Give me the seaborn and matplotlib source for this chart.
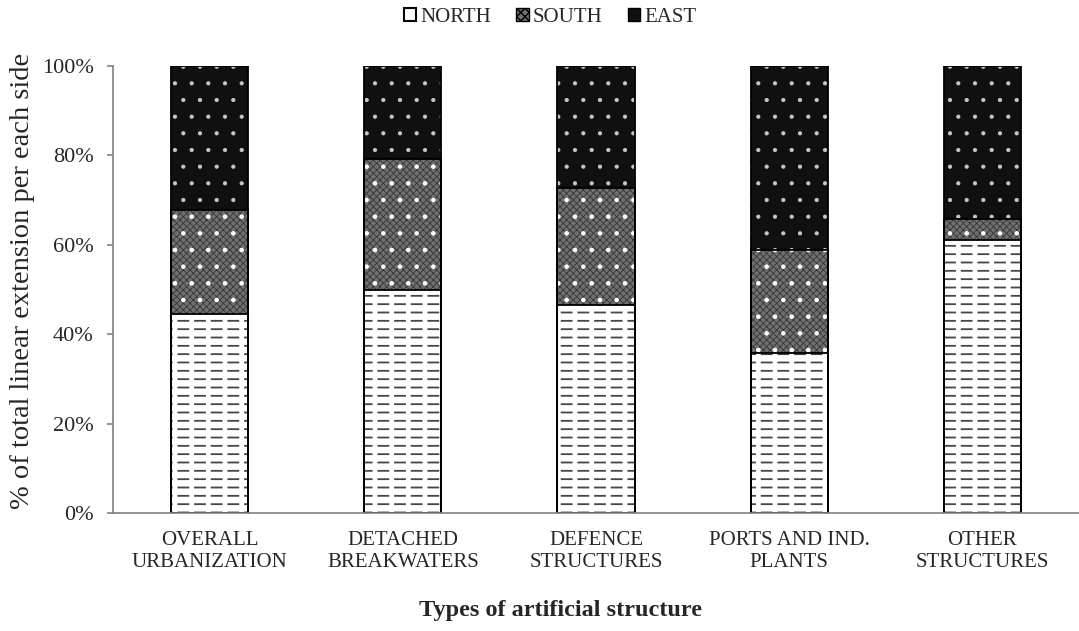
import matplotlib
matplotlib.use("Agg")
import matplotlib.pyplot as plt
import matplotlib.patches as mpatches
from matplotlib.ticker import PercentFormatter
import seaborn as sns
import pandas as pd

# values (% of total linear extension)
categories = ["OVERALL\nURBANIZATION", "DETACHED\nBREAKWATERS", "DEFENCE\nSTRUCTURES",
              "PORTS AND IND.\nPLANTS", "OTHER\nSTRUCTURES"]
north = [44.5, 49.8, 46.5, 35.9, 61.1]
south = [23.2, 29.3, 26.3, 22.9, 4.6]
east = [round(100 - n - s, 1) for n, s in zip(north, south)]
sides = ["NORTH", "SOUTH", "EAST"]

df = pd.DataFrame({"structure": categories, "NORTH": north, "SOUTH": south, "EAST": east})
# cumulative tops for stacking (seaborn draws overlapping bars)
df["north_top"] = df["NORTH"]
df["south_top"] = df["NORTH"] + df["SOUTH"]
df["east_top"] = df["south_top"] + df["EAST"]

sns.set_style("white")
plt.rcParams["font.family"] = ["Liberation Serif", "DejaVu Serif"]

fig = plt.figure(figsize=(10.79, 6.31), dpi=100)
ax = fig.add_axes([0.1047, 0.187, 0.8953, 0.7085])
ax_w_px, ax_h_px = 0.8953 * 1079, 0.7085 * 631

W = 0.4


def layer(col, hlw, **kws):
    with plt.rc_context({"hatch.linewidth": hlw}):
        sns.barplot(data=df, x="structure", y=col, order=categories, width=W,
                    errorbar=None, saturation=1, ax=ax, **kws)


# faces with hatch textures
layer("east_top", 0.6, color="#101010", edgecolor="#c8c8c8", hatch=".", linewidth=0)
layer("south_top", 0.6, color="#707070", edgecolor="#363636", hatch="xxxxx", linewidth=0)
layer("south_top", 0.9, fill=False, color="white", hatch=".", linewidth=0)
layer("north_top", 1.3, color="white", edgecolor="#454545", hatch="--", linewidth=0)
layer("north_top", 3.5, fill=False, color="white", hatch="|", linewidth=0)
# outlines
for col in ["east_top", "south_top", "north_top"]:
    layer(col, 1.0, fill=False, color="black", linewidth=1.3)

ax.set_xlim(-0.5, len(categories) - 0.5)
ax.set_ylim(0, 100)
ax.set_yticks(range(0, 101, 20))
ax.yaxis.set_major_formatter(PercentFormatter(decimals=0))
ax.set_xticks([i - 0.5 for i in range(len(categories) + 1)], minor=True)

for s in ["top", "right"]:
    ax.spines[s].set_visible(False)
for s in ["left", "bottom"]:
    ax.spines[s].set_color("#808080")
    ax.spines[s].set_linewidth(1.2)

ax.tick_params(axis="x", which="major", length=0, pad=13, labelsize=15)
ax.tick_params(axis="x", which="minor", length=4, width=1.2, color="#808080", direction="out")
ax.tick_params(axis="y", which="major", length=4, width=1.2, color="#808080",
               direction="out", left=True, pad=10, labelsize=16)

ax.set_ylabel("% of total linear extension per each side", fontsize=20.5)
ax.yaxis.label.set_verticalalignment("center")
ax.yaxis.set_label_coords((23 - 113) / ax_w_px, (513 - 281) / ax_h_px)

ax.set_xlabel("Types of artificial structure", fontsize=17.5, fontweight="bold")
ax.xaxis.label.set_verticalalignment("center")
ax.xaxis.set_label_coords((561 - 113) / ax_w_px, (513 - 610) / ax_h_px)

handles = [
    mpatches.Patch(facecolor="white", edgecolor="black", linewidth=1.5, label="NORTH"),
    mpatches.Patch(facecolor="#707070", edgecolor="black", linewidth=1.0, hatch="xxxx", label="SOUTH"),
    mpatches.Patch(facecolor="#101010", edgecolor="black", linewidth=1.0, label="EAST"),
]
fig.legend(handles=handles, loc="center", bbox_to_anchor=(0.51, 1 - 17 / 631), ncol=3,
           frameon=False, fontsize=15, handlelength=0.6, handleheight=0.6,
           handletextpad=0.2, columnspacing=1.2)

fig.savefig("out.png", dpi=100)
